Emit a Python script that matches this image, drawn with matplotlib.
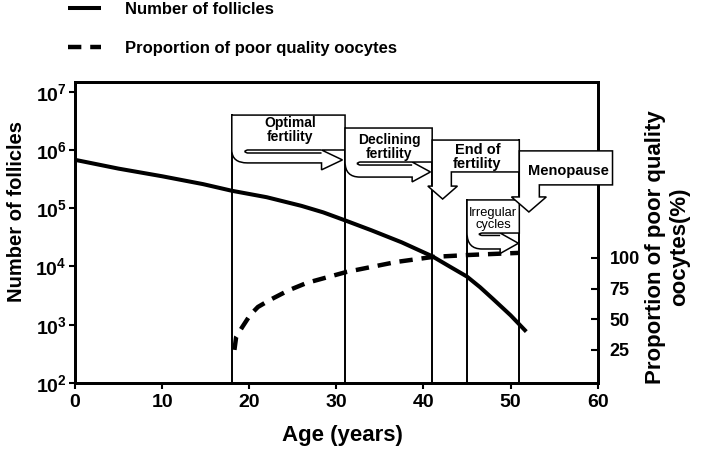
import numpy as np
import matplotlib.pyplot as plt
from matplotlib.path import Path
from matplotlib.patches import PathPatch
from matplotlib.ticker import FixedLocator, FuncFormatter, NullLocator

plt.rcParams["font.family"] = "Liberation Sans"
plt.rcParams["font.weight"] = "bold"
plt.rcParams["axes.labelweight"] = "bold"
plt.rcParams["mathtext.fontset"] = "custom"
plt.rcParams["mathtext.rm"] = "Liberation Sans:bold"
plt.rcParams["mathtext.bf"] = "Liberation Sans:bold"

# Number of follicles (left axis, log scale)
age_follicles = [0, 5, 10, 14.7, 18, 22, 26, 28.5, 31, 34, 37.5, 41, 43, 45, 46.5, 48, 50, 51.8]
follicles = [6.8e5, 4.8e5, 3.55e5, 2.6e5, 2.0e5, 1.55e5, 1.1e5, 8.5e4, 6.2e4, 4.2e4,
             2.6e4, 1.5e4, 1.0e4, 6.7e3, 4.4e3, 2.75e3, 1.45e3, 7.6e2]

# Proportion of poor quality oocytes, % (right axis)
age_poor = [18.3, 18.5, 19.2, 20.1, 21.0, 22.4, 24.5, 26.6, 31.2, 36.9, 41.1, 45.3, 51.0]
poor_pct = [25, 35.5, 43.6, 53.4, 60, 65.8, 73.5, 79.6, 88.6, 96.7, 100.8, 102.4, 104.1]

# reproductive stages
stage_ages = [18, 31, 41, 45, 51]
stage_labels = ["Optimal\nfertility", "Declining\nfertility", "End of\nfertility",
                "Irregular\ncycles", "Menopause"]

left_ticks = [1e2, 1e3, 1e4, 1e5, 1e6, 1e7]
right_ticks = [25, 50, 75, 100]
x_ticks = [0, 10, 20, 30, 40, 50, 60]

fig = plt.figure(figsize=(7.21, 4.58), dpi=100)
ax = fig.add_axes([0.104, 0.164, 0.725, 0.657])

(l_foll,) = ax.plot(age_follicles, follicles, color="black", lw=2.9,
                    solid_capstyle="butt", label="Number of follicles")
ax.set_yscale("log")
ax.set_xlim(0, 60)
ax.set_ylim(1e2, 10 ** 7.17)
ax.yaxis.set_major_locator(FixedLocator(left_ticks))
ax.yaxis.set_minor_locator(NullLocator())
ax.yaxis.set_major_formatter(FuncFormatter(lambda v, _: r"$\mathbf{10^{%d}}$" % round(np.log10(v))))
ax.xaxis.set_major_locator(FixedLocator(x_ticks))
ax.tick_params(axis="both", direction="out", length=4.5, width=1.5, labelsize=14)
ax.tick_params(axis="y", pad=1.5)
for s in ax.spines.values():
    s.set_linewidth(2)

ax2 = ax.twinx()
(l_poor,) = ax2.plot(age_poor, poor_pct, color="black", lw=3.2, dashes=(3, 2),
                     dash_capstyle="butt", label="Proportion of poor quality oocytes")
ax2.set_ylim(-1.9, 243.4)
ax2.yaxis.set_major_locator(FixedLocator(right_ticks))
ax2.tick_params(axis="y", direction="in", length=5, width=1.5, labelsize=13, pad=8.5)
for s in ax2.spines.values():
    s.set_linewidth(2)

ax.set_xlabel("Age (years)", fontsize=16, fontweight="bold")
ax.xaxis.set_label_coords(0.512, -0.176)
ax.xaxis.label.set_va("center")
ax.set_ylabel("Number of follicles", fontsize=14.5, fontweight="bold")
ax.yaxis.set_label_coords(-0.112, 0.57)
ax.yaxis.label.set_va("center")
ax2.set_ylabel("Proportion of poor quality\noocytes(%)", fontsize=16, fontweight="bold",
               rotation=90)
ax2.yaxis.set_label_coords(1.133, 0.452)
ax2.yaxis.label.set_va("center")
ax2.yaxis.label.set_ha("center")

# stage boundary lines (x in years, y in axes fraction)
for x, top in zip(stage_ages, [0.89, 0.847, 0.807, 0.608, 0.807]):
    ax2.axvline(x, ymin=0, ymax=top, color="black", lw=1.4, zorder=3)

tr = ax2.get_xaxis_transform()
box_kw = dict(facecolor="white", edgecolor="black", lw=1.1, transform=tr,
              clip_on=False, zorder=5)


def right_callout(x0, x1, top, bot, shaft_x, shaft_top, shaft_bot, head_x, head_bot, tip):
    tip_y = (bot + head_bot) / 2
    verts = [(x0, top), (x1, top), (x1, bot), (head_x, bot), (tip, tip_y),
             (head_x, head_bot), (head_x, shaft_bot), (shaft_x, shaft_bot),
             (x0, shaft_bot), (x0, bot), (x0, top), (x0, top)]
    codes = [Path.MOVETO] + [Path.LINETO] * 7 + [Path.CURVE3, Path.CURVE3,
                                                  Path.LINETO, Path.CLOSEPOLY]
    ax2.add_patch(PathPatch(Path(verts, codes), **box_kw))
    fold = [(head_x, bot), (shaft_x, bot), (shaft_x - 0.6, (bot + shaft_top) / 2),
            (shaft_x, shaft_top), (head_x, shaft_top)]
    fcodes = [Path.MOVETO, Path.LINETO, Path.CURVE3, Path.CURVE3, Path.LINETO]
    ax2.add_patch(PathPatch(Path(fold, fcodes), facecolor="none", edgecolor="black",
                            lw=1.1, transform=tr, clip_on=False, zorder=5))


def down_callout(x0, x1, top, bot, shaft_r, head_y, head_l, head_r, tip_x, tip_y):
    verts = [(x0, top), (x1, top), (x1, bot), (shaft_r, bot), (shaft_r, head_y),
             (head_r, head_y), (tip_x, tip_y), (head_l, head_y), (x0, head_y),
             (x0, top)]
    codes = [Path.MOVETO] + [Path.LINETO] * 8 + [Path.CLOSEPOLY]
    ax2.add_patch(PathPatch(Path(verts, codes), **box_kw))


right_callout(18, 31, 0.89, 0.774, 19.8, 0.764, 0.731, 28.3, 0.708, 30.7)
right_callout(31, 41, 0.847, 0.734, 32.7, 0.724, 0.684, 38.7, 0.668, 40.8)
down_callout(41, 51, 0.807, 0.701, 43.2, 0.654, 40.5, 43.9, 42.2, 0.611)
right_callout(45, 51, 0.608, 0.498, 46.7, 0.49, 0.445, 48.8, 0.43, 50.9)
down_callout(51, 61.7, 0.771, 0.658, 53.3, 0.618, 50.1, 54.1, 52.1, 0.568)

txt_kw = dict(transform=tr, ha="center", va="center", linespacing=1.0,
              zorder=6, clip_on=False)
ax2.text(24.7, 0.841, stage_labels[0], fontsize=10, **txt_kw)
ax2.text(36.1, 0.784, stage_labels[1], fontsize=10, **txt_kw)
ax2.text(46.2, 0.751, stage_labels[2], fontsize=10.5, **txt_kw)
ax2.text(48.0, 0.543, stage_labels[3], fontsize=9.3, fontweight="normal", **txt_kw)
ax2.text(56.6, 0.704, stage_labels[4], fontsize=10.5, **txt_kw)

fig.legend(handles=[l_foll, l_poor], loc="center left", bbox_to_anchor=(0.094, 0.937),
           frameon=False, fontsize=12, handlelength=2.0, handletextpad=1.45,
           labelspacing=1.45, borderpad=0, borderaxespad=0)

fig.savefig("out.png", dpi=100)
